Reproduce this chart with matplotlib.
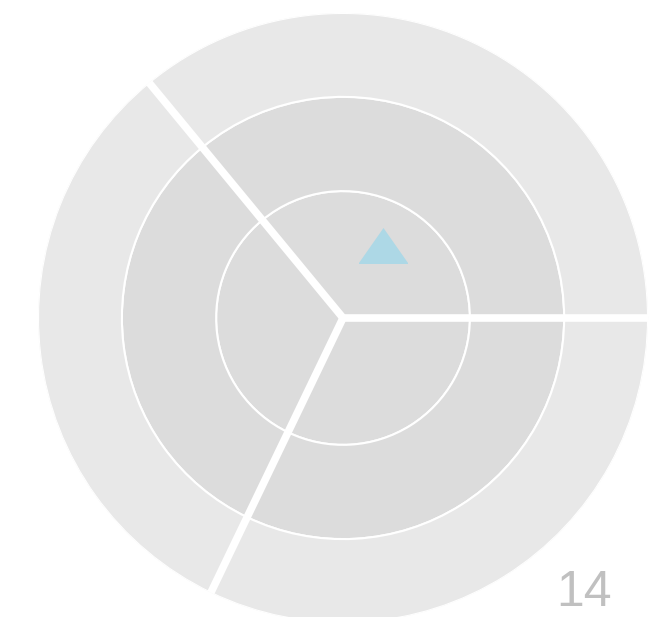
import numpy as np
import matplotlib
matplotlib.use('Agg')
import matplotlib.pyplot as plt

# sector boundaries (degrees, counter-clockwise from east)
sector_edges = [0, 129.5, 244.3, 360]
# ring boundaries (fraction of outer radius)
ring_edges = [0, 0.416, 0.725, 1.0]
ring_colors = ['#dcdcdc', '#dcdcdc', '#e8e8e8']

# marker position (angle deg, radius)
marker_theta = 61.4
marker_r = 0.274
label_text = '14'

fig = plt.figure(figsize=(6.52, 6.17), dpi=100)
ax = fig.add_axes([0.0583, -0.0097, 0.9356, 0.9887], projection='polar')

for i in range(len(sector_edges) - 1):
    t0 = np.radians(sector_edges[i])
    w = np.radians(sector_edges[i + 1] - sector_edges[i])
    for j in range(len(ring_edges) - 1):
        ax.bar(t0, ring_edges[j + 1] - ring_edges[j], width=w, bottom=ring_edges[j],
               align='edge', color=ring_colors[j], edgecolor='white', linewidth=1.5)

# thick white separators between sectors
for e in sector_edges[:-1]:
    ax.plot([np.radians(e)] * 2, [0, 1.0], color='white', lw=5.5, solid_capstyle='butt')

tri = [(-1, -0.714), (1, -0.714), (0, 0.714)]
ax.plot(np.radians(marker_theta), marker_r, marker=tri, markersize=35.3,
        color='#add8e6', markeredgewidth=0, linestyle='none')

ax.set_ylim(0, 1.0)
ax.set_axis_off()

fig.text(612 / 652, 0.001, label_text, ha='right', va='bottom',
         fontsize=36, color='#c0c0c0', family='Liberation Sans')

fig.savefig('out.png', dpi=100)
